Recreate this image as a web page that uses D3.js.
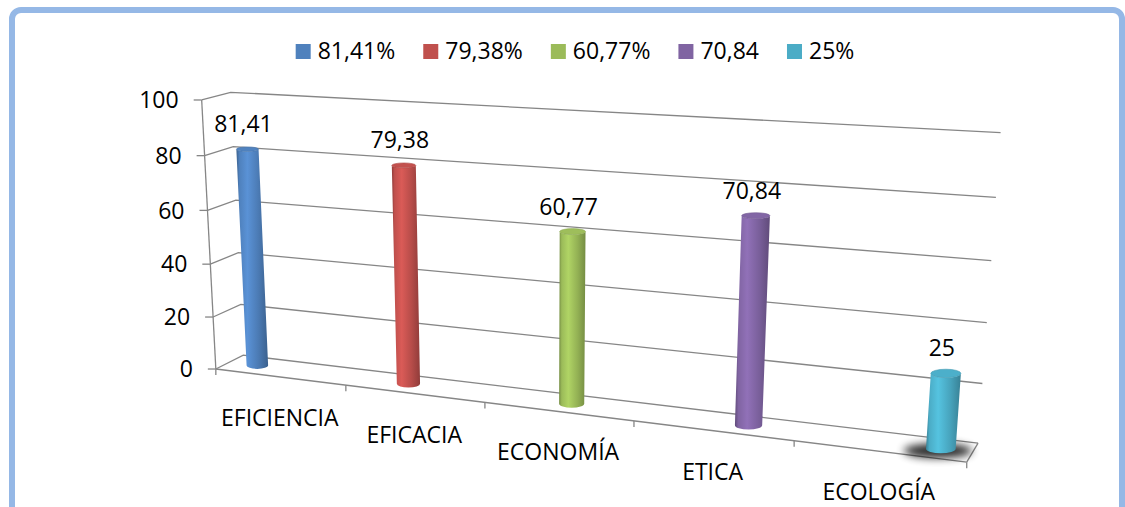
<!DOCTYPE html>
<html>
<head>
<meta charset="utf-8">
<script src="https://cdn.jsdelivr.net/npm/d3@7"></script>
<style>
  html, body { margin: 0; padding: 0; background: #fff; }
  svg { display: block; font-family: "Open Sans", sans-serif; }
</style>
</head>
<body>
<svg id="chart" width="1125" height="507"></svg>
<script>
// ---- data ----
const categories   = ["EFICIENCIA", "EFICACIA", "ECONOMÍA", "ETICA", "ECOLOGÍA"];
const values       = [81.41, 79.38, 60.77, 70.84, 25];
const legendLabels = ["81,41%", "79,38%", "60,77%", "70,84", "25%"];
const yTickValues  = [0, 20, 40, 60, 80, 100];

// ---- palette ----
const seriesColors = ["#4F81BD", "#C0504D", "#9BBB59", "#8064A2", "#4BACC6"];
const gridColor = "#868686";
const fontSize = 23;

// ---- 3D frame: world (x: category units 0..5, y: value fraction 0..1, z: depth 0 front..1 back) -> screen ----
const frameAnchors = [
  [0, 0, 0, 218, 367.5], [1, 0, 0, 347, 386], [2, 0, 0, 485, 404], [3, 0, 0, 633, 422.5], [4, 0, 0, 793, 441], [5, 0, 0, 967, 463],
  [0, 0.2, 0, 213.6, 316], [0, 0.4, 0, 210.9, 262.7], [0, 0.6, 0, 207.3, 210], [0, 0.8, 0, 203.6, 156], [0, 1, 0, 200, 99.3],
  [0, 0, 1, 242, 356.5], [0, 0.2, 1, 239.5, 304.5], [0, 0.4, 1, 237.5, 252.5], [0, 0.6, 1, 235.5, 200], [0, 0.8, 1, 234, 148], [0, 1, 1, 233, 92.3],
  [5, 0, 1, 978, 441], [5, 0.2, 1, 983, 382], [5, 0.4, 1, 987, 322], [5, 0.6, 1, 992, 261], [5, 0.8, 1, 996, 198], [5, 1, 1, 1000, 133]
];

// Least-squares fit of a 3x4 perspective camera matrix (last entry fixed to 1)
function fitCamera(pts) {
  const rows = [], rhs = [];
  pts.forEach(([X, Y, Z, u, v]) => {
    rows.push([X, Y, Z, 1, 0, 0, 0, 0, -u * X, -u * Y, -u * Z]); rhs.push(u);
    rows.push([0, 0, 0, 0, X, Y, Z, 1, -v * X, -v * Y, -v * Z]); rhs.push(v);
  });
  const n = 11;
  const M = Array.from({ length: n }, () => new Array(n + 1).fill(0));
  rows.forEach((r, k) => {
    for (let i = 0; i < n; i++) {
      for (let j = 0; j < n; j++) M[i][j] += r[i] * r[j];
      M[i][n] += r[i] * rhs[k];
    }
  });
  for (let c = 0; c < n; c++) {
    let piv = c;
    for (let r = c + 1; r < n; r++) if (Math.abs(M[r][c]) > Math.abs(M[piv][c])) piv = r;
    [M[c], M[piv]] = [M[piv], M[c]];
    for (let r = 0; r < n; r++) {
      if (r === c) continue;
      const f = M[r][c] / M[c][c];
      for (let j = c; j <= n; j++) M[r][j] -= f * M[c][j];
    }
  }
  return M.map((row, i) => row[n] / row[i]);
}
const cam = fitCamera(frameAnchors);
function project(X, Y, Z) {
  const w = cam[8] * X + cam[9] * Y + cam[10] * Z + 1;
  return [(cam[0] * X + cam[1] * Y + cam[2] * Z + cam[3]) / w,
          (cam[4] * X + cam[5] * Y + cam[6] * Z + cam[7]) / w];
}

// ---- scales ----
const xBand = d3.scaleBand().domain(categories).range([0, 5]);
const xBar  = d3.scalePoint().domain(categories).range([0.22, 4.82]);
const y     = d3.scaleLinear().domain([0, 100]).range([0, 1]);
const xMax = 5;
const barDepth = 0.5, barRX = 0.085, barRZ = 0.25;

const svg = d3.select("#chart");
const defs = svg.append("defs");
const line = d3.line();

// ---- chart border ----
svg.append("rect")
  .attr("x", 12).attr("y", 10).attr("width", 1110).attr("height", 530)
  .attr("rx", 9)
  .attr("fill", "none").attr("stroke", "#95b8e6").attr("stroke-width", 6);

// ---- walls: gridlines on side wall and back wall ----
const grid = svg.append("g").attr("fill", "none").attr("stroke", gridColor).attr("stroke-width", 1.3);
yTickValues.forEach(t => {
  grid.append("path").attr("d", line([project(0, y(t), 0), project(0, y(t), 1), project(xMax, y(t), 1)]));
});

// value axis line + ticks
grid.append("path").attr("d", line([project(0, 0, 0), project(0, 1, 0)]));
yTickValues.forEach(t => {
  const [px, py] = project(0, y(t), 0);
  grid.append("path").attr("d", line([[px - 8, py], [px, py]]));
});

// floor: front edge (category axis) and right edge
grid.append("path").attr("d", line([project(0, 0, 0), project(xMax, 0, 0)]));
grid.append("path").attr("d", line([project(xMax, 0, 0), project(xMax, 0, 1)]));
d3.range(0, categories.length + 1).forEach(k => {
  const [px, py] = project(k, 0, 0);
  grid.append("path").attr("d", line([[px, py], [px, py + 6]]));
});

// ---- value axis labels ----
svg.append("g").selectAll("text").data(yTickValues).join("text")
  .attr("x", d => project(0, y(d), 0)[0] - 23)
  .attr("y", d => project(0, y(d), 0)[1])
  .attr("dy", "0.36em")
  .attr("text-anchor", "end")
  .attr("font-size", fontSize).attr("fill", "#000")
  .text(d => d);

// ---- category labels ----
svg.append("g").selectAll("text").data(categories).join("text")
  .attr("x", d => project(xBand(d) + xBand.bandwidth() / 2, 0, 0)[0])
  .attr("y", d => project(xBand(d) + xBand.bandwidth() / 2, 0, 0)[1] + 49)
  .attr("text-anchor", "middle")
  .attr("font-size", fontSize).attr("fill", "#000")
  .text(d => d);

// ---- cylinders ----
const shadowFilter = defs.append("filter").attr("id", "soft-shadow")
  .attr("x", "-50%").attr("y", "-200%").attr("width", "200%").attr("height", "500%");
shadowFilter.append("feGaussianBlur").attr("stdDeviation", 4);

const fmt = v => String(v).replace(".", ",");

categories.forEach((cat, i) => {
  const base = d3.color(seriesColors[i]);
  const gid = "cyl-grad-" + i;
  const g = defs.append("linearGradient").attr("id", gid)
    .attr("x1", 0).attr("x2", 1).attr("y1", 0).attr("y2", 0);
  [[0, base.darker(0.8)], [0.1, base], [0.35, base.brighter(0.35)], [0.7, base.darker(0.15)], [1, base.darker(0.8)]]
    .forEach(([o, c]) => g.append("stop").attr("offset", o).attr("stop-color", c.formatHex()));

  const xb = xBar(cat);
  const yv = y(values[i]);
  const [bx, by] = project(xb, 0, barDepth);
  const [tx, ty] = project(xb, yv, barDepth);
  const halfW = Y => barRX * (project(xb + 0.5, Y, barDepth)[0] - project(xb - 0.5, Y, barDepth)[0]);
  const halfH = Y => barRZ * (project(xb, Y, barDepth - 0.5)[1] - project(xb, Y, barDepth + 0.5)[1]);
  const wb = halfW(0), hb = halfH(0), wt = halfW(yv), ht = halfH(yv);

  const bar = svg.append("g");
  if (i === categories.length - 1) {
    bar.append("ellipse")
      .attr("cx", bx - 3).attr("cy", by + 2)
      .attr("rx", wb * 2.3).attr("ry", hb * 1.5)
      .attr("fill", "#000").attr("opacity", 0.85)
      .attr("filter", "url(#soft-shadow)");
  }
  bar.append("path")
    .attr("d", `M${tx - wt},${ty} L${bx - wb},${by} A${wb},${hb} 0 0 0 ${bx + wb},${by} ` +
               `L${tx + wt},${ty} A${wt},${ht} 0 0 1 ${tx - wt},${ty} Z`)
    .attr("fill", `url(#${gid})`);
  bar.append("ellipse")
    .attr("cx", tx).attr("cy", ty).attr("rx", wt).attr("ry", ht)
    .attr("fill", base.brighter(0.05).formatHex())
    .attr("stroke", base.darker(0.3).formatHex()).attr("stroke-width", 0.6);

  svg.append("text")
    .attr("x", tx - 4).attr("y", ty - 17)
    .attr("text-anchor", "middle")
    .attr("font-size", fontSize).attr("fill", "#000")
    .text(fmt(values[i]));
});

// ---- legend ----
const legend = svg.append("g");
const items = legendLabels.map((lab, i) => {
  const gi = legend.append("g");
  gi.append("rect").attr("x", 0).attr("y", -15).attr("width", 15).attr("height", 15)
    .attr("fill", seriesColors[i]);
  const t = gi.append("text").attr("x", 22).attr("y", 0)
    .attr("font-size", fontSize).attr("fill", "#000").text(lab);
  return { gi, w: 22 + t.node().getComputedTextLength() };
});
const gap = 28;
const total = d3.sum(items, d => d.w) + gap * (items.length - 1);
let cx = 575 - total / 2;
items.forEach(it => { it.gi.attr("transform", `translate(${cx},59)`); cx += it.w + gap; });
</script>
</body>
</html>
